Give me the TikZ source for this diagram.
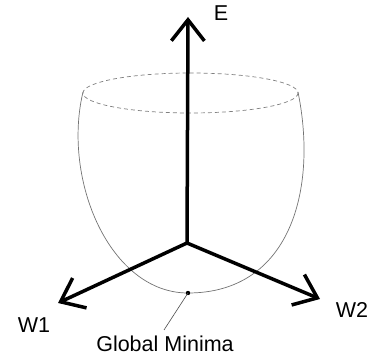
\documentclass[tikz,border=0pt]{standalone}
\usepackage{fontspec}
\setmainfont{Liberation Sans}
\usetikzlibrary{arrows.meta}
\begin{document}
\begin{tikzpicture}[x=1pt,y=-1pt,
  axis/.style={line width=3.5pt,-{Straight Barb[length=21pt,width=33pt,line width=3.5pt]}},
  bowl/.style={draw=black!55,line width=0.7pt},
  rim/.style={draw=black!50,line width=0.7pt,dash pattern=on 4pt off 3pt},
  lbl/.style={font=\fontsize{21.5}{24}\selectfont,inner sep=0pt}]
\useasboundingbox (0,0) rectangle (373,355);
\coordinate (O) at (187,243);
\coordinate (Etip) at (188,17);
\coordinate (W1tip) at (58,303);
\coordinate (W2tip) at (320,299);
\coordinate (L) at (83,92);
\coordinate (R) at (298,92);
\coordinate (M) at (188,293);
\coordinate (leadend) at (164,330);
% bowl
\draw[rim] (190.5,93) ellipse [x radius=107.5, y radius=20];
\draw[bowl] (L) .. controls (62,180) and (110,293) .. (M);
\draw[bowl] (R) .. controls (318,190) and (290,293) .. (M);
% axes
\draw[axis] (O) -- (Etip);
\draw[axis] (O) -- (W1tip);
\draw[axis] (O) -- (W2tip);
% minimum
\fill (M) circle (2.2);
\draw[black!70,line width=0.6pt] (M) -- (leadend);
\node[lbl] (E) at (221,13) {E};
\node[lbl] (W1) at (34,325) {W1};
\node[lbl] (W2) at (352,310) {W2};
\node[lbl] (GM) at (165,344) {Global Minima};
\end{tikzpicture}
\end{document}
